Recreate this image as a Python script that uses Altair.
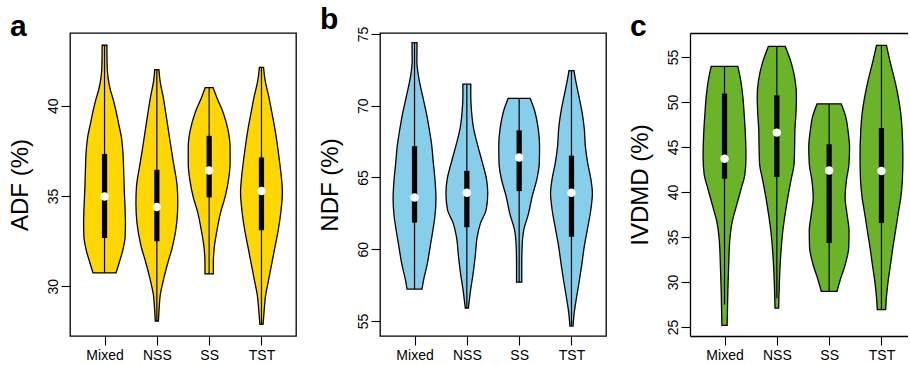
import altair as alt
import pandas as pd

CATS = ["Mixed", "NSS", "SS", "TST"]

# ---- Violin outlines: (value, half-width in category units) ----
ADF_MIXED = [(30.74, 0.22), (31.3, 0.28), (32.0, 0.35), (32.8, 0.395), (33.5, 0.40), (34.5, 0.39),
             (35.5, 0.375), (36.5, 0.365), (37.5, 0.35), (38.3, 0.32), (39.0, 0.27), (39.7, 0.22),
             (40.3, 0.17), (40.9, 0.11), (41.5, 0.07), (42.2, 0.05), (43.35, 0.045)]
ADF_NSS = [(28.07, 0.03), (28.6, 0.04), (29.5, 0.065), (30.4, 0.13), (31.3, 0.21), (32.2, 0.30),
           (33.5, 0.38), (34.6, 0.40), (35.5, 0.39), (36.8, 0.32), (37.7, 0.27), (38.66, 0.22),
           (39.6, 0.17), (40.5, 0.12), (41.4, 0.06), (42.0, 0.04)]
ADF_SS = [(30.68, 0.08), (31.3, 0.08), (32.2, 0.10), (33.1, 0.15), (34.1, 0.22), (35.0, 0.31),
          (35.9, 0.37), (36.8, 0.40), (37.7, 0.40), (38.66, 0.36), (39.6, 0.27), (40.5, 0.14),
          (41.0, 0.076)]
ADF_TST = [(27.88, 0.03), (28.6, 0.05), (29.5, 0.08), (30.4, 0.14), (31.3, 0.20), (32.2, 0.26),
           (33.1, 0.32), (34.1, 0.37), (35.2, 0.40), (35.9, 0.385), (36.8, 0.35), (37.7, 0.31),
           (38.66, 0.26), (39.6, 0.20), (40.5, 0.14), (41.4, 0.07), (42.12, 0.04)]

NDF_MIXED = [(57.22, 0.143), (57.8, 0.17), (59.0, 0.245), (60.2, 0.30), (61.3, 0.35), (62.3, 0.39),
             (63.5, 0.41), (64.9, 0.39), (66.0, 0.36), (67.2, 0.33), (68.4, 0.28), (69.6, 0.22),
             (70.75, 0.15), (71.9, 0.083), (73.1, 0.045), (74.4, 0.048)]
NDF_NSS = [(55.9, 0.03), (57.1, 0.07), (58.3, 0.12), (59.5, 0.16), (60.9, 0.20), (61.8, 0.26),
           (62.75, 0.37), (63.9, 0.40), (64.9, 0.375), (66.0, 0.30), (67.2, 0.21), (68.4, 0.13),
           (69.6, 0.09), (70.75, 0.075), (71.5, 0.076)]
NDF_SS = [(57.7, 0.05), (59.0, 0.05), (60.2, 0.057), (61.3, 0.086), (62.5, 0.18), (63.7, 0.25),
          (64.9, 0.34), (66.0, 0.385), (67.2, 0.39), (68.4, 0.365), (69.6, 0.30), (70.52, 0.21)]
NDF_TST = [(54.64, 0.03), (55.5, 0.05), (56.6, 0.095), (57.8, 0.15), (59.0, 0.20), (60.2, 0.245),
           (61.3, 0.30), (62.75, 0.37), (63.9, 0.40), (64.9, 0.37), (66.0, 0.31), (67.2, 0.265),
           (68.4, 0.245), (69.6, 0.20), (70.75, 0.137), (71.9, 0.073), (72.45, 0.048)]

IVDMD_MIXED = [(25.19, 0.05), (26.5, 0.055), (29.1, 0.064), (32.0, 0.08), (34.6, 0.10), (36.5, 0.14),
               (38.3, 0.22), (40.2, 0.31), (42.0, 0.39), (43.9, 0.41), (46.85, 0.395), (48.7, 0.375),
               (50.6, 0.35), (52.4, 0.31), (53.96, 0.255)]
IVDMD_NSS = [(27.1, 0.035), (28.3, 0.04), (29.8, 0.048), (32.0, 0.064), (33.9, 0.086), (35.7, 0.115),
             (37.6, 0.16), (39.4, 0.21), (41.3, 0.27), (43.15, 0.33), (45.0, 0.34), (46.85, 0.345),
             (48.7, 0.365), (50.6, 0.375), (52.4, 0.35), (54.26, 0.28), (56.19, 0.16)]
IVDMD_SS = [(28.96, 0.15), (30.2, 0.21), (32.0, 0.31), (33.9, 0.375), (35.7, 0.38), (37.6, 0.34),
            (39.4, 0.305), (41.3, 0.33), (43.15, 0.38), (45.0, 0.39), (46.85, 0.36), (48.3, 0.32),
            (49.8, 0.23)]
IVDMD_TST = [(26.93, 0.08), (28.3, 0.095), (30.2, 0.13), (32.0, 0.175), (33.9, 0.22), (35.7, 0.27),
             (37.6, 0.32), (39.4, 0.37), (41.3, 0.40), (43.9, 0.41), (46.85, 0.395), (48.7, 0.37),
             (50.6, 0.32), (52.4, 0.255), (54.26, 0.175), (56.3, 0.095)]

# ---- Box-plot statistics (per category: Mixed, NSS, SS, TST) ----
ADF_Q1 = [32.67, 32.49, 34.92, 33.10]
ADF_MED = [34.97, 34.39, 36.41, 35.27]
ADF_Q3 = [37.33, 36.45, 38.33, 37.13]
ADF_LO = [30.74, 28.07, 30.68, 27.88]
ADF_HI = [43.35, 42.00, 41.00, 42.12]

NDF_Q1 = [61.86, 61.53, 64.05, 60.87]
NDF_MED = [63.60, 63.93, 66.40, 63.93]
NDF_Q3 = [67.18, 65.46, 68.28, 66.52]
NDF_LO = [57.22, 55.90, 57.70, 54.64]
NDF_HI = [74.40, 71.50, 70.52, 72.45]

IVDMD_Q1 = [41.48, 41.67, 34.33, 36.56]
IVDMD_MED = [43.70, 46.60, 42.40, 42.33]
IVDMD_Q3 = [50.93, 50.74, 45.30, 47.10]
IVDMD_LO = [27.50, 28.20, 28.96, 26.93]
IVDMD_HI = [53.96, 56.19, 49.80, 56.30]

FONT = "Liberation Sans"
BOX_HALF = 0.05
PLOT_H = 303
FRAME_W = 1.3


def profile_df(violins):
    rows = []
    for i, (cat, prof) in enumerate(zip(CATS, violins), start=1):
        for v, w in prof:
            rows.append({"cat": cat, "pos": i, "v": v, "lo": i - w, "hi": i + w})
    return pd.DataFrame(rows)


def stats_df(q1, med, q3, lo, hi):
    return pd.DataFrame({
        "cat": CATS, "pos": [1, 2, 3, 4],
        "bl": [i - BOX_HALF for i in [1, 2, 3, 4]],
        "br": [i + BOX_HALF for i in [1, 2, 3, 4]],
        "q1": q1, "med": med, "q3": q3, "wlo": lo, "whi": hi,
    })


label_expr = "[" + ",".join("'%s'" % c for c in CATS) + "][datum.value - 1]"


def panel(violins, stats, color, ydom, yticks, ytitle, letter, width, xmax, open_right=False):
    xscale = alt.Scale(domain=[0.34, xmax], nice=False, zero=False)
    yscale = alt.Scale(domain=ydom, nice=False, zero=False)
    xaxis = alt.Axis(values=[1, 2, 3, 4], labelExpr=label_expr, title=None, tickSize=9,
                     labelPadding=3, labelFlush=False, labelOverlap=False, domain=open_right,
                     domainColor="black", domainWidth=FRAME_W, grid=False)
    yaxis = alt.Axis(values=yticks, tickSize=9, labelAngle=270, labelAlign="center",
                     labelBaseline="alphabetic", labelPadding=4, domain=open_right,
                     domainColor="black", domainWidth=FRAME_W, grid=False,
                     title=ytitle, titleFontSize=24, titleFont=FONT, titleFontWeight="normal",
                     titleAngle=270, titleAlign="center", titleBaseline="alphabetic",
                     titleX=-43, titleY=PLOT_H / 2, titleColor="black",
                     labelFlush=False, labelOverlap=False)
    topaxis = alt.Axis(orient="top", domain=True, ticks=False, labels=False, title=None,
                       grid=False, domainColor="black", domainWidth=FRAME_W)
    pdf = profile_df(violins)
    sdf = stats_df(*stats)
    violin = alt.Chart(pdf).mark_area(
        orient="horizontal", interpolate="monotone", fill=color, fillOpacity=1,
        stroke="black", strokeWidth=1.3
    ).encode(
        y=alt.Y("v:Q", scale=yscale, axis=yaxis),
        x=alt.X("lo:Q", scale=xscale, axis=xaxis),
        x2="hi:Q",
        detail="cat:N",
    )
    if open_right:
        wx = alt.X("pos:Q", axis=topaxis)
        bx = alt.X("bl:Q", axis=None)
        mx = alt.X("pos:Q", axis=None)
    else:
        wx = alt.X("pos:Q")
        bx = alt.X("bl:Q")
        mx = alt.X("pos:Q")
    whisk = alt.Chart(sdf).mark_rule(color="black", strokeWidth=1.2).encode(
        x=wx, y="wlo:Q", y2="whi:Q")
    box = alt.Chart(sdf).mark_bar(color="black").encode(
        x=bx, x2="br:Q", y="q1:Q", y2="q3:Q")
    med = alt.Chart(sdf).mark_point(filled=True, color="white", opacity=1, size=72,
                                    shape="circle").encode(x=mx, y="med:Q")
    layered = alt.layer(violin, whisk, box, med).properties(
        width=width, height=PLOT_H,
        title=alt.TitleParams(text=letter, anchor="start", frame="group", fontSize=30,
                              fontWeight="bold", font=FONT, color="black", dx=-60,
                              dy=33, baseline="alphabetic", offset=0),
    )
    if open_right:
        layered = layered.resolve_axis(x="independent").properties(
            view=alt.ViewBackground(stroke="transparent", strokeWidth=0))
    return layered


pa = panel([ADF_MIXED, ADF_NSS, ADF_SS, ADF_TST],
           (ADF_Q1, ADF_MED, ADF_Q3, ADF_LO, ADF_HI),
           "#FFD700", [27.24, 44.03], [30, 35, 40], "ADF (%)", "a", 226, 4.66)
pb = panel([NDF_MIXED, NDF_NSS, NDF_SS, NDF_TST],
           (NDF_Q1, NDF_MED, NDF_Q3, NDF_LO, NDF_HI),
           "#87CEEB", [53.95, 75.07], [55, 60, 65, 70, 75], "NDF (%)", "b", 226, 4.66)
pc = panel([IVDMD_MIXED, IVDMD_NSS, IVDMD_SS, IVDMD_TST],
           (IVDMD_Q1, IVDMD_MED, IVDMD_Q3, IVDMD_LO, IVDMD_HI),
           "#6BB42A", [24.0, 57.67], [25, 30, 35, 40, 45, 50, 55], "IVDMD (%)", "c", 218,
           0.34 + 218 / 52.31, open_right=True)

chart = alt.hconcat(pa, pb, pc, spacing=84, bounds="flush").properties(
    padding={"left": 7, "top": 4, "right": 0, "bottom": 0},
    background="white",
).configure_view(
    stroke="black", strokeWidth=FRAME_W
).configure_axis(
    labelFont=FONT, labelFontSize=14, labelColor="black", tickColor="black", tickWidth=1.1
)

chart.save("out.html", embed_options={"renderer": "svg", "actions": False})
